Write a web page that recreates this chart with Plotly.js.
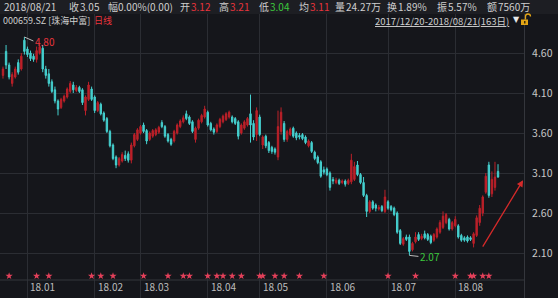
<!DOCTYPE html>
<html><head><meta charset="utf-8">
<script src="https://cdn.plot.ly/plotly-3.0.1.min.js"></script>
<style>html,body{margin:0;padding:0;background:#15161b;}#chart{width:558px;height:298px;}</style>
</head><body><div id="chart"></div>
<script>
// ---- data (163 trading days, 2017/12/20 - 2018/08/21) ----
const openP = [4.32,4.62,4.45,4.22,4.30,4.48,4.40,4.76,4.65,4.60,4.56,4.52,4.60,4.66,4.40,4.34,4.24,4.14,4.00,3.92,
4.00,4.05,4.12,4.20,4.13,4.17,4.14,3.88,4.02,4.15,4.05,3.88,3.96,3.85,3.78,3.62,3.45,3.30,3.20,3.25,
3.32,3.34,3.26,3.44,3.52,3.60,3.70,3.63,3.52,3.56,3.58,3.61,3.73,3.68,3.58,3.52,3.50,3.60,3.68,3.74,
3.84,3.80,3.74,3.52,3.66,3.74,3.80,3.86,3.72,3.65,3.62,3.68,3.74,3.77,3.80,3.80,3.78,3.74,3.60,3.66,
3.70,3.84,3.72,3.58,3.80,3.45,3.56,3.48,3.42,3.40,3.30,3.62,3.72,3.52,3.58,3.66,3.60,3.57,3.58,3.55,
3.44,3.48,3.36,3.30,3.24,3.14,3.15,3.10,3.02,2.98,3.01,2.98,3.00,2.97,2.99,3.02,3.20,3.08,2.98,2.82,
2.62,2.74,2.70,2.65,2.68,2.62,2.74,2.68,2.66,2.60,2.38,2.21,2.30,2.30,2.14,2.24,2.33,2.28,2.34,2.33,
2.31,2.26,2.30,2.36,2.42,2.48,2.52,2.40,2.44,2.44,2.32,2.29,2.30,2.29,2.22,2.32,2.48,2.60,2.86,3.20,
2.84,2.92,3.12];
const highP = [4.43,4.70,4.48,4.36,4.43,4.52,4.60,4.80,4.68,4.63,4.59,4.68,4.72,4.70,4.44,4.40,4.27,4.18,4.02,4.04,
4.08,4.17,4.25,4.24,4.20,4.19,4.16,4.07,4.24,4.18,4.07,4.00,3.98,3.87,3.80,3.64,3.47,3.32,3.30,3.36,
3.38,3.37,3.48,3.60,3.66,3.70,3.73,3.65,3.62,3.65,3.66,3.69,3.76,3.70,3.60,3.54,3.64,3.72,3.77,3.82,
3.88,3.82,3.76,3.68,3.78,3.84,3.94,3.88,3.74,3.67,3.72,3.79,3.83,3.86,3.88,3.82,3.80,3.76,3.72,3.76,
3.80,4.08,3.76,3.92,3.83,3.57,3.58,3.50,3.44,3.42,3.88,3.92,3.75,3.64,3.67,3.68,3.62,3.60,3.60,3.57,
3.52,3.50,3.38,3.32,3.26,3.18,3.17,3.12,3.05,3.04,3.03,3.02,3.02,3.03,3.34,3.24,3.25,3.10,3.05,2.84,
2.76,2.76,2.72,2.70,2.70,2.89,2.76,2.70,2.68,2.62,2.40,2.30,2.33,2.33,2.24,2.36,2.36,2.34,2.38,2.35,
2.33,2.35,2.42,2.51,2.62,2.60,2.54,2.50,2.56,2.46,2.34,2.31,2.32,2.31,2.36,2.57,2.70,2.82,3.10,3.24,
3.12,3.24,3.21];
const lowP = [4.28,4.40,4.27,4.18,4.28,4.33,4.38,4.58,4.55,4.50,4.49,4.48,4.58,4.36,4.28,4.18,4.10,3.97,3.82,3.90,
3.98,4.03,4.10,4.10,4.11,4.10,3.95,3.82,4.00,4.00,3.85,3.86,3.82,3.74,3.60,3.42,3.26,3.16,3.18,3.23,
3.25,3.23,3.22,3.42,3.50,3.58,3.60,3.46,3.50,3.54,3.56,3.59,3.66,3.54,3.48,3.44,3.48,3.58,3.66,3.72,
3.76,3.70,3.60,3.48,3.64,3.72,3.78,3.68,3.62,3.58,3.60,3.66,3.72,3.75,3.78,3.72,3.70,3.52,3.58,3.64,
3.68,3.48,3.51,3.50,3.56,3.40,3.41,3.35,3.34,3.33,3.26,3.58,3.49,3.49,3.56,3.54,3.51,3.52,3.51,3.46,
3.42,3.35,3.26,3.21,3.04,3.08,3.06,2.88,2.96,2.96,2.95,2.96,2.93,2.95,2.96,3.00,3.06,2.96,2.80,2.55,
2.60,2.64,2.62,2.63,2.61,2.60,2.64,2.62,2.56,2.34,2.20,2.19,2.25,2.07,2.12,2.22,2.25,2.26,2.27,2.25,
2.21,2.24,2.28,2.34,2.40,2.46,2.38,2.38,2.42,2.28,2.24,2.24,2.23,2.25,2.17,2.30,2.44,2.56,2.84,2.79,
2.80,2.88,3.04];
const closeP = [4.40,4.45,4.30,4.33,4.40,4.36,4.56,4.62,4.58,4.53,4.52,4.63,4.68,4.40,4.32,4.22,4.12,4.00,3.90,4.02,
4.06,4.15,4.22,4.14,4.17,4.12,3.98,4.05,4.20,4.02,3.88,3.98,3.84,3.76,3.62,3.44,3.28,3.20,3.28,3.33,
3.28,3.26,3.45,3.58,3.64,3.68,3.62,3.50,3.60,3.63,3.64,3.67,3.68,3.56,3.50,3.46,3.62,3.70,3.75,3.79,
3.78,3.72,3.62,3.66,3.76,3.82,3.90,3.70,3.64,3.61,3.70,3.77,3.81,3.84,3.86,3.74,3.72,3.56,3.70,3.74,
3.78,3.70,3.55,3.88,3.58,3.55,3.44,3.38,3.37,3.36,3.68,3.86,3.52,3.62,3.65,3.56,3.54,3.55,3.53,3.48,
3.50,3.37,3.28,3.23,3.06,3.11,3.08,2.92,3.00,3.01,2.97,3.00,2.96,3.01,3.26,3.18,3.08,2.98,2.82,2.62,
2.74,2.66,2.66,2.67,2.63,2.80,2.66,2.64,2.58,2.36,2.22,2.28,2.27,2.12,2.22,2.30,2.27,2.31,2.29,2.27,
2.23,2.33,2.40,2.48,2.56,2.58,2.40,2.48,2.52,2.30,2.26,2.26,2.25,2.27,2.34,2.54,2.66,2.80,3.06,2.82,
3.02,3.05,3.05];
const monthTicks = [8, 30, 45, 67, 84, 106, 126, 148];
const monthLabels = ['18.01','18.02','18.03','18.04','18.05','18.06','18.07','18.08'];
const priceTicks = [2.10, 2.60, 3.10, 3.60, 4.10, 4.60];
const starDays = [2,11,15,29,32,36,46,54,59,61,67,70,72,75,78,84,85,89,92,97,105,126,135,148,153,154,157,159];
const headerDate = '2018/08/21';
const headerLabels = ['收','幅','开','高','低','均','量','换','振','额'];
const headerValues = ['3.05','0.00%(0.00)','3.12','3.21','3.04','3.11','24.27万','1.89%','5.57%','7560万'];
const stockName = '000659.SZ [珠海中富]';
const periodName = '日线';
const rangeText = '2017/12/20-2018/08/21(163日)';

// ---- layout helpers (pixel -> paper) ----
const W = 558, H = 298, ML = 0, MR = 34, MT = 14, MB = 0;
const PW = W - ML - MR, PH = H - MT - MB;
const px = x => (x - ML) / PW;
const py = y => (H - MB - y) / PH;
const FONT = '"Noto Sans CJK SC", "Noto Sans", sans-serif';
const RED = '#e8343c', GREEN = '#3cc83c', TXT = '#cfcfcf';

const idx = closeP.map((_, i) => i);

const candle = {
  type: 'candlestick', x: idx, open: openP, high: highP, low: lowP, close: closeP,
  increasing: {line: {color: '#bc2029', width: 1}, fillcolor: '#bc2029'},
  decreasing: {line: {color: '#45d0cf', width: 1}, fillcolor: '#45d0cf'},
  whiskerwidth: 0, hoverinfo: 'skip', showlegend: false
};
const stars = {
  type: 'scatter', mode: 'markers', x: starDays, y: starDays.map(() => 1.8125),
  marker: {symbol: 'star', size: 5.5, color: '#e4405a'}, hoverinfo: 'skip', showlegend: false
};

const HF = 10;
const ann = [];
// header row 1
ann.push({xref: 'paper', yref: 'paper', x: px(2), y: py(7), xanchor: 'left', yanchor: 'middle',
  text: headerDate, showarrow: false, font: {family: FONT, size: HF, color: TXT}});
const labelX = [67, 106, 178, 217, 257, 297, 333, 385, 435, 485];
const valueX = [78, 116, 189, 228, 268, 308, 344, 396, 446, 496];
const valueColors = [TXT, TXT, RED, RED, GREEN, RED, TXT, TXT, TXT, TXT];
headerLabels.forEach((l, i) => {
  ann.push({xref: 'paper', yref: 'paper', x: px(labelX[i]), y: py(7), xanchor: 'left', yanchor: 'middle',
    text: l, showarrow: false, font: {family: FONT, size: HF, color: TXT}});
  ann.push({xref: 'paper', yref: 'paper', x: px(valueX[i]), y: py(7), xanchor: 'left', yanchor: 'middle',
    text: headerValues[i], showarrow: false, font: {family: FONT, size: HF, color: valueColors[i]}});
});
// header row 2
ann.push({xref: 'paper', yref: 'paper', x: px(1), y: py(20.5), xanchor: 'left', yanchor: 'middle',
  text: stockName, showarrow: false, font: {family: FONT, size: 9, color: TXT}});
ann.push({xref: 'paper', yref: 'paper', x: px(92), y: py(20.5), xanchor: 'left', yanchor: 'middle',
  text: periodName, showarrow: false, font: {family: FONT, size: 9, color: RED}});
ann.push({xref: 'paper', yref: 'paper', x: px(511), y: py(20.5), xanchor: 'right', yanchor: 'middle',
  text: '<u>' + rangeText + '</u>', showarrow: false, font: {family: FONT, size: 9.5, color: TXT}});
ann.push({xref: 'paper', yref: 'paper', x: px(516), y: py(20), xanchor: 'center', yanchor: 'middle',
  text: '▼', showarrow: false, font: {family: 'DejaVu Sans', size: 8, color: '#e8e8e8'}});
// month labels
monthTicks.forEach((t, i) => {
  ann.push({xref: 'x', yref: 'paper', x: t, y: py(286.5), xanchor: 'left', yanchor: 'middle', xshift: 1,
    text: monthLabels[i], showarrow: false, font: {family: FONT, size: 10, color: '#bdbdbd'}});
});
// max / min marks
const hi = Math.max(...highP), lo = Math.min(...lowP);
ann.push({x: highP.indexOf(hi), y: hi, xref: 'x', yref: 'y', text: hi.toFixed(2), showarrow: true,
  ax: 9, ay: 4, xanchor: 'left', yanchor: 'middle', arrowhead: 0, arrowwidth: 1, arrowcolor: '#bbbbbb',
  font: {family: FONT, size: 10, color: RED}});
ann.push({x: lowP.indexOf(lo), y: lo, xref: 'x', yref: 'y', text: lo.toFixed(2), showarrow: true,
  ax: 9, ay: 1, xanchor: 'left', yanchor: 'middle', arrowhead: 0, arrowwidth: 1, arrowcolor: '#bbbbbb',
  font: {family: FONT, size: 10, color: GREEN}});
// red trend arrow
ann.push({x: 170.2, y: 3.01, xref: 'x', yref: 'y', ax: 156.7, ay: 2.16, axref: 'x', ayref: 'y',
  text: '', showarrow: true, arrowhead: 2, arrowsize: 1, arrowwidth: 1.3, arrowcolor: '#d42a2a'});

const shapes = [
  {type: 'rect', xref: 'paper', yref: 'paper', x0: px(0), x1: px(W), y0: py(0), y1: py(14),
   fillcolor: '#1d1e23', line: {width: 0}, layer: 'below'},
  {type: 'line', xref: 'paper', yref: 'paper', x0: 0, x1: 1, y0: py(280), y1: py(280),
   line: {color: '#34363c', width: 1}},
  // lock icon
  {type: 'rect', xref: 'paper', yref: 'paper', x0: px(521), x1: px(528), y0: py(25), y1: py(19.5),
   fillcolor: '#e3a516', line: {width: 0}},
  {type: 'path', xref: 'paper', yref: 'paper',
   path: `M ${px(525.5)} ${py(19.5)} L ${px(525.5)} ${py(16.5)} Q ${px(525.5)} ${py(14)} ${px(528)} ${py(14)} Q ${px(530.5)} ${py(14)} ${px(530.5)} ${py(16.5)}`,
   line: {color: '#e3a516', width: 1.3}},
  {type: 'rect', xref: 'paper', yref: 'paper', x0: px(524), x1: px(525.5), y0: py(23.5), y1: py(21),
   fillcolor: '#3a2a08', line: {width: 0}}
];

const layout = {
  width: W, height: H, margin: {l: ML, r: MR, t: MT, b: MB, pad: 0},
  paper_bgcolor: '#15161b', plot_bgcolor: '#15161b',
  font: {family: FONT, color: TXT},
  showlegend: false, boxgap: 0.35,
  xaxis: {type: 'linear', range: [-0.98, 170.5], tickvals: monthTicks, showticklabels: false,
    showgrid: true, gridcolor: '#2b2d33', gridwidth: 1, zeroline: false, showline: false,
    ticks: '', rangeslider: {visible: false}, fixedrange: true},
  yaxis: {range: [1.5375, 5.0875], side: 'right', tickvals: priceTicks, tickformat: '.2f',
    showgrid: true, gridcolor: '#2b2d33', gridwidth: 1, zeroline: false,
    showline: true, linecolor: '#34363c', linewidth: 1, ticks: '', ticklabelstandoff: 5,
    tickfont: {family: FONT, size: 10.5, color: '#c8c8c8'}, fixedrange: true},
  annotations: ann, shapes: shapes
};
Plotly.newPlot('chart', [candle, stars], layout, {staticPlot: true, displayModeBar: false});
</script></body></html>
